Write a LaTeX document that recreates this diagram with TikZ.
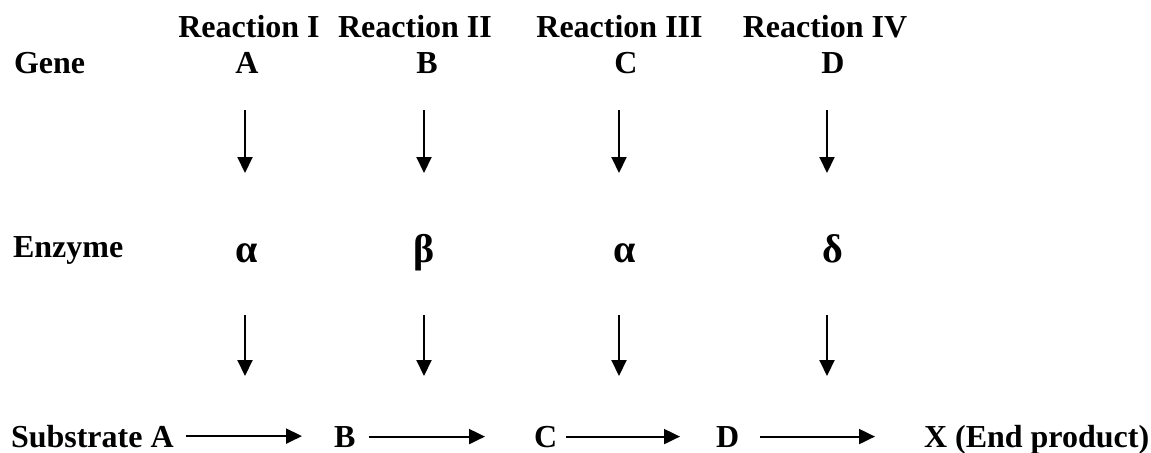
\documentclass[tikz,border=0pt]{standalone}
\usepackage{fontspec}
\setmainfont{Liberation Serif}
\usetikzlibrary{arrows.meta}
\begin{document}
\begin{tikzpicture}[x=0.5pt,y=-0.5pt,line width=1pt,
    >={Triangle[length=8pt,width=7.5pt]},
    lbl/.style={inner sep=0pt,font=\fontsize{16}{19}\selectfont\bfseries},
    greek/.style={lbl,font=\fontsize{20}{24}\selectfont\bfseries},
    flow/.style={->}]
\useasboundingbox (0,0) rectangle (1151,452);

% row titles
\node[lbl,anchor=base west] (gene) at (13,73) {Gene};
\node[lbl,anchor=base west] (enzyme) at (12,257) {Enzyme};

% the four reactions
\foreach \i/\r/\rx/\g/\gx/\e/\ex/\ax in {1/I/249/A/247/α/247/245,
    2/II/415/B/427/β/424/424, 3/III/619.5/C/626/α/625/619, 4/IV/825/D/833/δ/833/827}{
    \node[lbl,anchor=base] (r\i) at (\rx,37) {Reaction \r};
    \node[lbl,anchor=base] (g\i) at (\gx,73) {\g};
    \node[greek,anchor=base] (e\i) at (\ex,262) {\e};
    \coordinate (col\i) at (\ax,0);
}

% substrate chain
\node[lbl,anchor=base west] (s0) at (10,447) {Substrate A};
\node[lbl,anchor=base west] (s1) at (333,447) {B};
\node[lbl,anchor=base west] (s2) at (533,447) {C};
\node[lbl,anchor=base west] (s3) at (715,447) {D};
\node[lbl,anchor=base west] (s4) at (923,447) {X (End product)};

\foreach \i in {1,...,4}{
    \draw[flow,shorten <=18.5pt,shorten >=44.5pt] (col\i |- g\i.base) -- (col\i |- e\i.base);
    \draw[flow,shorten <=26.5pt,shorten >=35.5pt] (col\i |- e\i.base) -- (col\i |- s0.base);
}

\foreach \a/\b/\p/\q in {0/1/5.5/15.5, 1/2/6.5/24, 2/3/4/17.5, 3/4/10/24}{
    \draw[flow,shorten <=\p pt,shorten >=\q pt] (s\a.east) -- (s\a.east -| s\b.west);
}
\end{tikzpicture}
\end{document}
